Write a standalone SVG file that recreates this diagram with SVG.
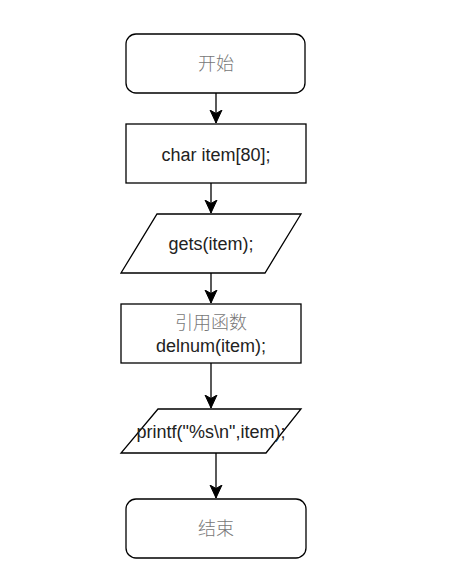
<svg xmlns="http://www.w3.org/2000/svg" width="459" height="582" viewBox="0 0 459 582">
<defs>
<style>
.shape{fill:#ffffff;stroke:#000000;stroke-width:1.3}
.code{font-family:"Liberation Sans",Arial,sans-serif;font-size:18px;fill:#222222;text-anchor:middle}
.cjk{font-family:"Noto Sans CJK SC","Liberation Sans",sans-serif;font-size:18px;font-weight:300;fill:#777777;text-anchor:middle}
.edge{fill:none;stroke:#000000;stroke-width:1.3}
</style>
<marker id="arrow" markerUnits="userSpaceOnUse" markerWidth="14" markerHeight="14" viewBox="0 0 14 14" refX="13" refY="7" orient="auto">
<path d="M0,1 L13,7 L0,13 L3.5,7 Z" fill="#000000" stroke="#000000" stroke-width="1"/>
</marker>
</defs>
<rect width="459" height="582" fill="#ffffff"/>
<g id="edges">
<line class="edge" x1="216" y1="93" x2="216" y2="123" marker-end="url(#arrow)"/>
<line class="edge" x1="211" y1="183" x2="211" y2="213" marker-end="url(#arrow)"/>
<line class="edge" x1="211" y1="273" x2="211" y2="303" marker-end="url(#arrow)"/>
<line class="edge" x1="211" y1="363" x2="211" y2="408" marker-end="url(#arrow)"/>
<line class="edge" x1="216" y1="453" x2="216" y2="498" marker-end="url(#arrow)"/>
</g>
<g id="start">
<rect class="shape" x="126" y="34" width="179" height="59" rx="10" ry="10"/>
<text class="cjk" x="216" y="70">开始</text>
</g>
<g id="declare">
<rect class="shape" x="126" y="124" width="180" height="59"/>
<text class="code" x="216" y="161">char item[80];</text>
</g>
<g id="input">
<polygon class="shape" points="157,214 301,214 265,273 121,273"/>
<text class="code" x="211" y="250">gets(item);</text>
</g>
<g id="call">
<rect class="shape" x="121" y="304" width="180" height="59"/>
<text class="cjk" x="211" y="329">引用函数</text>
<text class="code" x="211" y="352">delnum(item);</text>
</g>
<g id="output">
<polygon class="shape" points="158,409 301,409 266,453 121,453"/>
<text class="code" x="211" y="438">printf("%s\n",item);</text>
</g>
<g id="end">
<rect class="shape" x="126" y="499" width="180" height="59" rx="10" ry="10"/>
<text class="cjk" x="216" y="535">结束</text>
</g>
</svg>
